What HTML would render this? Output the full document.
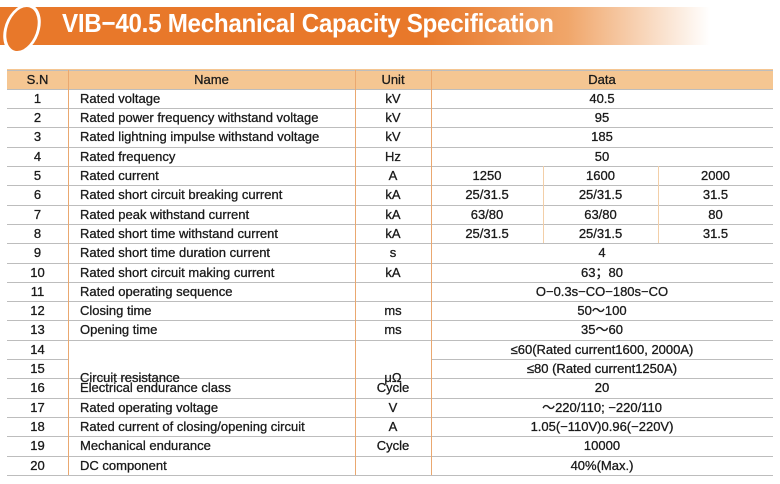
<!DOCTYPE html>
<html><head><meta charset="utf-8"><style>
body{margin:0;width:780px;height:484px;background:#fff;position:relative;overflow:hidden;font-family:"Liberation Sans",sans-serif;color:#1a1a1a}
#banner{position:absolute;left:0;top:7px;width:710px;height:38px;background:linear-gradient(90deg,#e8782a 0%,#e8782a 60%,#f0a66a 80%,#fff 100%)}
#blob{position:absolute;left:4px;top:4px;width:30px;height:44px;border-radius:50%;background:#e8782a;border:3px solid #fff;transform:skewX(-12deg)}
#title{position:absolute;left:62px;top:8px;font-size:26px;font-weight:bold;color:#fff;letter-spacing:-0.3px;transform:scaleX(0.93);transform-origin:left}
.c{position:absolute;font-size:13px;-webkit-text-stroke:0.3px #1a1a1a;white-space:nowrap;line-height:19px}
.hl{position:absolute;height:1px;background:#bdbdbd;left:7px;width:766px}
.vl{position:absolute;width:1px;background:#eaa870}
.sv{background:#f3cfa8}
</style></head><body>
<div id="banner"></div>
<div id="blob"></div>
<div id="title">VIB−40.5 Mechanical Capacity Specification</div>
<div style="position:absolute;left:7px;top:69px;width:766px;height:20px;background:#f5c692"></div>
<div id="t"></div>
<script>
const names=["Rated voltage","Rated power frequency withstand voltage","Rated lightning impulse withstand voltage","Rated frequency","Rated current","Rated short circuit breaking current","Rated peak withstand current","Rated short time withstand current","Rated short time duration current","Rated short circuit making current","Rated operating sequence","Closing time","Opening time","","","Electrical endurance class","Rated operating voltage","Rated current of closing/opening circuit","Mechanical endurance","DC component"];
const units=["kV","kV","kV","Hz","A","kA","kA","kA","s","kA","","ms","ms","","","Cycle","V","A","Cycle",""];
const data=["40.5","95","185","50",["1250","1600","2000"],["25/31.5","25/31.5","31.5"],["63/80","63/80","80"],["25/31.5","25/31.5","31.5"],"4","63；80","O−0.3s−CO−180s−CO","50～100","35～60","≤60(Rated current1600, 2000A)","≤80 (Rated current1250A)","20","～220/110; −220/110","1.05(−110V)0.96(−220V)","10000","40%(Max.)"];
const T=document.getElementById('t');
const top0=69.5,rh=19.3;
const X=[7,68,355,431,543,658,773];
function cell(txt,l,r,y,h,align,name){const d=document.createElement('div');d.className='c';


d.style.left=l+'px';d.style.width=(r-l)+'px';d.style.top=y+'px';d.style.height=h+'px';d.style.lineHeight=h+'px';d.style.textAlign=align;d.textContent=txt;T.appendChild(d);}
function hline(y,l,r,name){const d=document.createElement('div');d.className='hl';


d.style.top=y+'px';if(l!==undefined){d.style.left=l+'px';d.style.width=(r-l)+'px';}T.appendChild(d);}
function vline(x,y1,y2,name,sub){const d=document.createElement('div');d.className='vl'+(sub?' sv':'');


d.style.left=x+'px';d.style.top=y1+'px';d.style.height=(y2-y1)+'px';T.appendChild(d);}
cell("S.N",X[0],X[1],top0,rh,'center','header-sn');cell("Name",X[1],X[2],top0,rh,'center','header-name');cell("Unit",X[2],X[3],top0,rh,'center','header-unit');cell("Data",X[3],X[6],top0,rh,'center','header-data');
const bottom=top0+21*rh;
hline(top0,undefined,undefined,'row-line');
for(let i=0;i<20;i++){const y=top0+(i+1)*rh;
 if(i==14) hline(y,X[0],X[1],'row-line'),hline(y,X[3],X[6],'row-line'); else hline(y,undefined,undefined,'row-line');
 cell(String(i+1),X[0],X[1],y,rh,'center','row-number');
 if(names[i]) cell(names[i],X[1]+12,X[2],y,rh,'left','row-name');
 if(units[i]) cell(units[i],X[2],X[3],y,rh,'center','row-unit');
 const v=data[i];
 if(Array.isArray(v)){for(let k=0;k<3;k++)cell(v[k],X[3+k],X[4+k],y,rh,'center','row-data');vline(X[4],y,y+rh,'sub-col-line',1);vline(X[5],y,y+rh,'sub-col-line',1);}
 else cell(v,X[3],X[6],y,rh,'center','row-data');
}
cell("Circuit resistance",X[1]+12,X[2],top0+15*rh,rh*2,'left','row-name');
cell("μΩ",X[2],X[3],top0+15*rh,rh*2,'center','row-unit');
hline(bottom,undefined,undefined,'row-line');
vline(X[1],top0,bottom,'col-line');vline(X[2],top0,bottom,'col-line');vline(X[3],top0,bottom,'col-line');
</script>
</body></html>
